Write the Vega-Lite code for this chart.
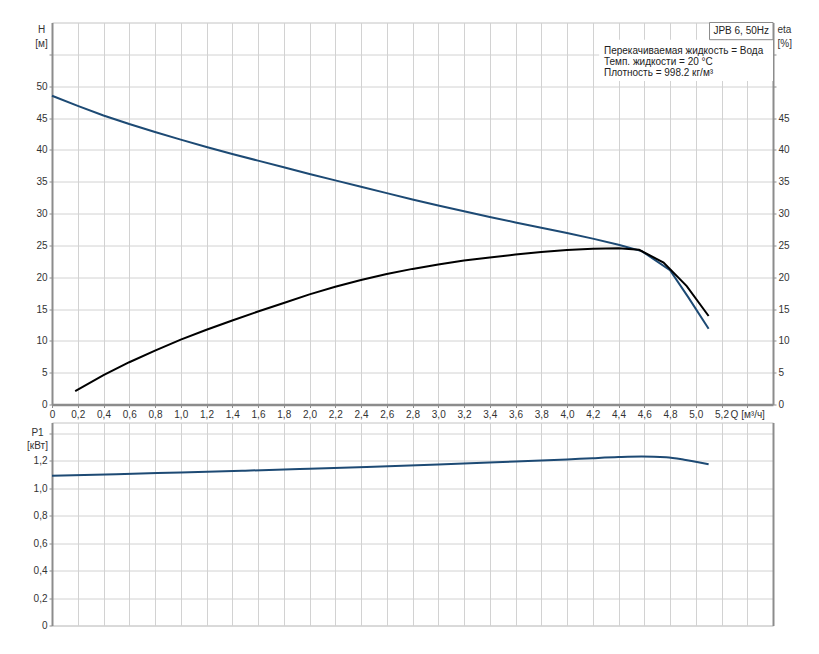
{
  "$schema": "https://vega.github.io/schema/vega-lite/v6.json",
  "padding": {"left": 26, "top": 21.5, "right": 5, "bottom": 5},
  "background": "white",
  "config": {
    "font": "Liberation Sans",
    "view": {"stroke": "#c4c4c4", "strokeWidth": 1},
    "axis": {
      "labelFont": "Liberation Sans", "labelFontSize": 10, "labelColor": "#333333",
      "domainColor": "#8c8c8c", "domainWidth": 2,
      "tickColor": "#8c8c8c", "tickSize": 3, "tickWidth": 1,
      "gridColor": "#d2d2d2", "gridWidth": 1,
      "titleFont": "Liberation Sans", "titleFontSize": 10, "titleFontWeight": "normal", "titleColor": "#333333",
      "labelPadding": 2
    }
  },
  "datasets": {
    "H": [
      {"Q": 0, "H": 48.5}, {"Q": 0.2, "H": 46.9}, {"Q": 0.4, "H": 45.4}, {"Q": 0.6, "H": 44.05},
      {"Q": 0.8, "H": 42.8}, {"Q": 1.0, "H": 41.6}, {"Q": 1.2, "H": 40.45}, {"Q": 1.4, "H": 39.35},
      {"Q": 1.6, "H": 38.3}, {"Q": 1.8, "H": 37.25}, {"Q": 2.0, "H": 36.2}, {"Q": 2.2, "H": 35.2},
      {"Q": 2.4, "H": 34.2}, {"Q": 2.6, "H": 33.2}, {"Q": 2.8, "H": 32.2}, {"Q": 3.0, "H": 31.25},
      {"Q": 3.2, "H": 30.35}, {"Q": 3.4, "H": 29.45}, {"Q": 3.6, "H": 28.6}, {"Q": 3.8, "H": 27.75},
      {"Q": 4.0, "H": 26.95}, {"Q": 4.2, "H": 26.05}, {"Q": 4.4, "H": 25.1}, {"Q": 4.58, "H": 24.1},
      {"Q": 4.8, "H": 21.1}, {"Q": 4.94, "H": 16.9}, {"Q": 5.1, "H": 11.9}
    ],
    "eta": [
      {"Q": 0.18, "eta": 2.1}, {"Q": 0.4, "eta": 4.6}, {"Q": 0.6, "eta": 6.64}, {"Q": 0.8, "eta": 8.46},
      {"Q": 1.0, "eta": 10.2}, {"Q": 1.2, "eta": 11.75}, {"Q": 1.4, "eta": 13.2}, {"Q": 1.6, "eta": 14.6},
      {"Q": 1.8, "eta": 15.95}, {"Q": 2.0, "eta": 17.3}, {"Q": 2.2, "eta": 18.5}, {"Q": 2.4, "eta": 19.55},
      {"Q": 2.6, "eta": 20.5}, {"Q": 2.8, "eta": 21.3}, {"Q": 3.0, "eta": 22.0}, {"Q": 3.2, "eta": 22.6},
      {"Q": 3.4, "eta": 23.1}, {"Q": 3.6, "eta": 23.55}, {"Q": 3.8, "eta": 23.95}, {"Q": 4.0, "eta": 24.25},
      {"Q": 4.2, "eta": 24.45}, {"Q": 4.4, "eta": 24.55}, {"Q": 4.56, "eta": 24.3}, {"Q": 4.75, "eta": 22.3},
      {"Q": 4.93, "eta": 18.6}, {"Q": 5.1, "eta": 13.9}
    ],
    "P1": [
      {"Q": 0, "P1": 1.091}, {"Q": 0.5, "P1": 1.1035}, {"Q": 1.0, "P1": 1.116}, {"Q": 1.5, "P1": 1.129},
      {"Q": 2.0, "P1": 1.143}, {"Q": 2.5, "P1": 1.158}, {"Q": 3.0, "P1": 1.174}, {"Q": 3.5, "P1": 1.192},
      {"Q": 4.0, "P1": 1.211}, {"Q": 4.2, "P1": 1.22}, {"Q": 4.4, "P1": 1.228}, {"Q": 4.58, "P1": 1.232},
      {"Q": 4.77, "P1": 1.226}, {"Q": 4.91, "P1": 1.209}, {"Q": 5.1, "P1": 1.176}
    ],
    "boxes": [
      {"Q": 4.25, "Q2": 5.6, "y": 50.8, "y2": 57.3, "kind": "bg"},
      {"Q": 5.107, "Q2": 5.6, "y": 57.3, "y2": 60, "kind": "box"}
    ],
    "notes": [
      {"Q": 5.137, "y": 58.7, "text": "JPB 6, 50Hz"},
      {"Q": 4.287, "y": 55.6, "text": "Перекачиваемая жидкость = Вода"},
      {"Q": 4.287, "y": 53.75, "text": "Темп. жидкости = 20 °C"},
      {"Q": 4.287, "y": 52.05, "text": "Плотность = 998.2 кг/м³"}
    ]
  },
  "spacing": 1,
  "vconcat": [
    {
      "width": 721,
      "height": 382,
      "encoding": {
        "x": {
          "field": "Q", "type": "quantitative",
          "scale": {"domain": [0, 5.6], "nice": false, "zero": false},
          "axis": {
            "values": [0, 0.2, 0.4, 0.6, 0.8, 1.0, 1.2, 1.4, 1.6, 1.8, 2.0, 2.2, 2.4, 2.6, 2.8, 3.0, 3.2, 3.4, 3.6, 3.8, 4.0, 4.2, 4.4, 4.6, 4.8, 5.0, 5.2, 5.4],
            "labelExpr": "datum.value == 0 ? '0' : (datum.value > 5.3 ? 'Q [м³/ч]' : replace(format(datum.value, '.1f'), '.', ','))",
            "title": null, "grid": true, "labelFlush": false, "labelOverlap": false, "domainWidth": 2.5
          }
        }
      },
      "layer": [
        {
          "data": {"name": "H"},
          "mark": {"type": "line", "color": "#1d4a74", "strokeWidth": 2},
          "encoding": {
            "y": {
              "field": "H", "type": "quantitative",
              "scale": {"domain": [0, 60], "nice": false},
              "axis": {
                "orient": "left",
                "values": [0, 5, 10, 15, 20, 25, 30, 35, 40, 45, 50, 55],
                "labelExpr": "datum.value > 52 ? '' : datum.label",
                "title": ["H", "[м]"], "titleAngle": 0, "titleAlign": "center", "titleBaseline": "top",
                "titleX": -11, "titleY": 2, "titleLineHeight": 14, "grid": true
              }
            }
          }
        },
        {
          "data": {"name": "eta"},
          "mark": {"type": "line", "color": "#000000", "strokeWidth": 2},
          "encoding": {
            "y": {
              "field": "eta", "type": "quantitative",
              "scale": {"domain": [0, 60], "nice": false},
              "axis": {
                "orient": "right",
                "values": [0, 5, 10, 15, 20, 25, 30, 35, 40, 45, 50, 55],
                "labelExpr": "datum.value > 47 ? '' : datum.label",
                "title": ["eta", "[%]"], "titleAngle": 0, "titleAlign": "left", "titleBaseline": "top",
                "titleX": 4, "titleY": 2, "titleLineHeight": 14, "grid": false
              }
            }
          }
        },
        {
          "data": {"name": "boxes"},
          "mark": {"type": "rect", "fill": "white"},
          "encoding": {
            "x2": {"field": "Q2"},
            "y": {"field": "y", "type": "quantitative", "scale": {"domain": [0, 60], "nice": false}, "axis": null},
            "y2": {"field": "y2"},
            "stroke": {"condition": {"test": "datum.kind == 'box'", "value": "#8c8c8c"}, "value": null}
          }
        },
        {
          "data": {"name": "notes"},
          "mark": {"type": "text", "align": "left", "baseline": "middle", "font": "Liberation Sans", "fontSize": 10, "color": "#222222"},
          "encoding": {
            "y": {"field": "y", "type": "quantitative", "scale": {"domain": [0, 60], "nice": false}, "axis": null},
            "text": {"field": "text"}
          }
        }
      ],
      "resolve": {"scale": {"y": "independent"}, "axis": {"y": "independent"}}
    },
    {
      "width": 721,
      "height": 203,
      "data": {"name": "P1"},
      "encoding": {
        "x": {
          "field": "Q", "type": "quantitative",
          "scale": {"domain": [0, 5.6], "nice": false, "zero": false},
          "axis": {
            "values": [0, 0.2, 0.4, 0.6, 0.8, 1.0, 1.2, 1.4, 1.6, 1.8, 2.0, 2.2, 2.4, 2.6, 2.8, 3.0, 3.2, 3.4, 3.6, 3.8, 4.0, 4.2, 4.4, 4.6, 4.8, 5.0, 5.2, 5.4],
            "labels": false, "ticks": false, "domain": false, "title": null, "grid": true
          }
        }
      },
      "layer": [
        {
          "mark": {"type": "line", "color": "#1d4a74", "strokeWidth": 2, "interpolate": "monotone"},
          "encoding": {
            "y": {
              "field": "P1", "type": "quantitative",
              "scale": {"domain": [0, 1.48], "nice": false},
              "axis": {
                "orient": "left",
                "values": [0, 0.2, 0.4, 0.6, 0.8, 1.0, 1.2, 1.4],
                "labelExpr": "datum.value == 0 ? '0' : (datum.value > 1.3 ? '' : replace(format(datum.value, '.1f'), '.', ','))",
                "title": ["P1", "[кВт]"], "titleAngle": 0, "titleAlign": "center", "titleBaseline": "top",
                "titleX": -15, "titleY": 5, "titleLineHeight": 13, "grid": true
              }
            }
          }
        },
        {
          "mark": {"type": "line", "strokeOpacity": 0},
          "encoding": {
            "y": {
              "field": "P1", "type": "quantitative",
              "scale": {"domain": [0, 1.48], "nice": false},
              "axis": {"orient": "right", "labels": false, "ticks": false, "grid": false, "title": null}
            }
          }
        }
      ],
      "resolve": {"scale": {"y": "independent"}, "axis": {"y": "independent"}}
    }
  ]
}
